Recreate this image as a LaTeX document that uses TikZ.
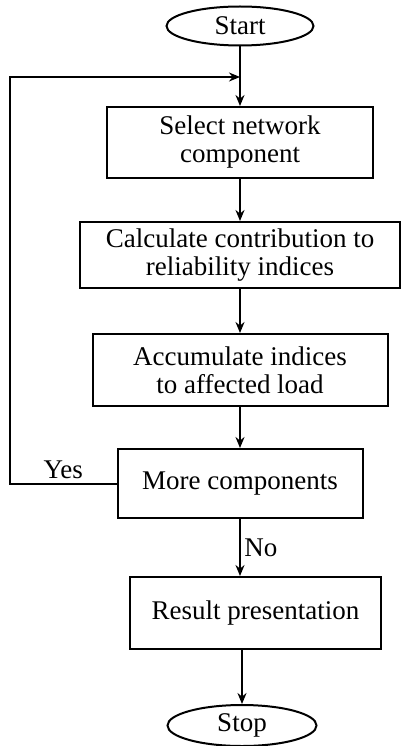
\documentclass[tikz,border=0pt]{standalone}
\usepackage{fontspec}
\setmainfont{Liberation Serif}
\usetikzlibrary{positioning,shapes.geometric,arrows.meta}

\begin{document}
\begin{tikzpicture}[node distance=113pt,on grid,auto,line width=2pt,
	>={Stealth[length=11pt,width=9pt]},
	font=\fontsize{27}{28}\selectfont,
	box/.style={draw,rectangle,align=center,inner sep=0pt,minimum height=70pt},
	term/.style={draw,ellipse,inner sep=0pt,minimum width=147pt,minimum height=39pt}]
	\useasboundingbox (0,0) rectangle (400pt,-746pt);
	\node[term] (start) at (240pt,-26pt) {Start};
	\node[box,minimum width=266pt,minimum height=71pt,below=116.5pt of start] (sel) {Select network\\component};
	\node[box,minimum width=320pt,minimum height=66pt,below=112.5pt of sel] (calc) {Calculate contribution to\\reliability indices};
	\node[box,minimum width=295pt,minimum height=72pt,below=115pt of calc] (acc) {Accumulate indices\\to affected load};
	\node[box,minimum width=245pt,minimum height=69pt,below=113.5pt of acc] (more) {More components};
	\node[box,minimum width=251pt,minimum height=72pt,below right=129.5pt and 15.5pt of more] (res) {Result presentation};
	\node[term,minimum width=149pt,minimum height=41pt,below left=112.5pt and 13.5pt of res] (stop) {Stop};
	\coordinate[below=51pt of start] (join);
	\coordinate[left=230pt of join] (corner);
	\path[->] (start) edge (sel)
		(sel) edge (calc)
		(calc) edge (acc)
		(acc) edge (more);
	\draw[->] (more.west) -| node[above,pos=0.25] {Yes} (corner) -- (join);
	\draw[->] (more.south) -- node[right] {No} (more.south |- res.north);
	\draw[->] (res.south -| stop) -- (stop);
\end{tikzpicture}
\end{document}
